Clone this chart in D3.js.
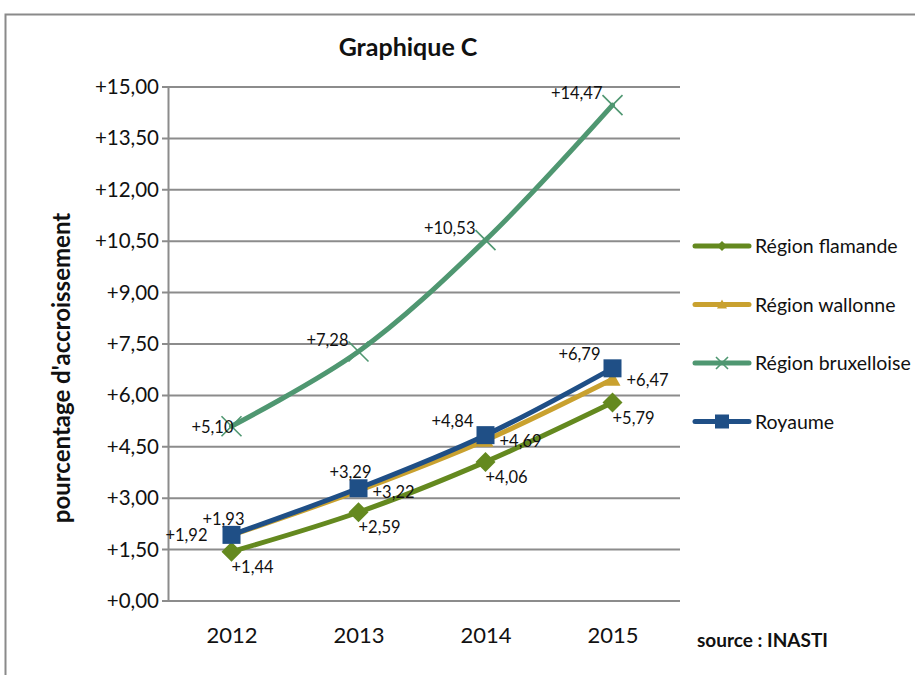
<!DOCTYPE html>
<html>
<head>
<meta charset="utf-8">
<script src="https://cdn.jsdelivr.net/npm/d3@7"></script>
<style>
  body { margin: 0; background: #fff; }
  svg { font-family: Lato, "Open Sans", sans-serif; }
</style>
</head>
<body>
<svg id="chart"></svg>
<script>
// data
var years = ["2012", "2013", "2014", "2015"];
var flamande = [1.44, 2.59, 4.06, 5.79];
var wallonne = [1.92, 3.22, 4.69, 6.47];
var bruxelloise = [5.10, 7.28, 10.53, 14.47];
var royaume = [1.93, 3.29, 4.84, 6.79];
var yTicks = [0, 1.5, 3, 4.5, 6, 7.5, 9, 10.5, 12, 13.5, 15];

var W = 915, H = 675;
var m = { left: 168, right: 239, top: 87, bottom: 74 };
var w = W - m.left - m.right;
var h = H - m.top - m.bottom;

var svg = d3.select("#chart").attr("width", W).attr("height", H);

// outer frame
svg.append("path")
    .attr("d", "M5.5," + H + "V14.5H" + W)
    .attr("fill", "none")
    .attr("stroke", "#8a8a8a")
    .attr("stroke-width", 2);

var fmt = function (v) { return "+" + d3.format(".2f")(v).replace(".", ","); };

var x = d3.scalePoint().domain(years).range([0, w]).padding(0.5);
var y = d3.scaleLinear().domain([0, 15]).range([h, 0]);

var chart = svg.append("g")
    .attr("transform", "translate(" + m.left + "," + m.top + ")");

// gridlines
chart.append("g").selectAll("line")
    .data(yTicks)
    .enter().append("line")
    .attr("x1", -6).attr("x2", w + 4)
    .attr("y1", function (d) { return y(d); })
    .attr("y2", function (d) { return y(d); })
    .attr("stroke", "#8c8c8c")
    .attr("stroke-width", 2);

// y axis
var gY = chart.append("g")
    .call(d3.axisLeft(y).tickValues(yTicks).tickFormat(fmt).tickSize(0).tickPadding(9));
gY.select(".domain").attr("stroke", "#8c8c8c").attr("stroke-width", 2);
gY.selectAll("text").attr("font-size", 20.5).attr("fill", "#111").attr("font-family", "Lato, sans-serif");

// x axis labels
var gX = chart.append("g")
    .attr("transform", "translate(0," + h + ")")
    .call(d3.axisBottom(x).tickSize(0).tickPadding(26));
gX.select(".domain").remove();
gX.selectAll("text").attr("font-size", 22).attr("fill", "#111").attr("font-family", "Lato, sans-serif");

var line = d3.line()
    .x(function (d, i) { return x(years[i]); })
    .y(function (d) { return y(d); })
    .curve(d3.curveCatmullRom);

var series = [
    { name: "Région flamande", values: flamande, color: "#64891f", marker: "diamond",
      label: function (i) { return { anchor: "start", dx: 0, dy: 21 }; } },
    { name: "Région wallonne", values: wallonne, color: "#c9a12f", marker: "triangle",
      label: function (i) { return i == 0 ? { anchor: "end", dx: -24, dy: 6 } : { anchor: "start", dx: 14, dy: 7 }; } },
    { name: "Région bruxelloise", values: bruxelloise, color: "#4f9771", marker: "cross",
      label: function (i) { return i == 0 ? { anchor: "end", dx: 2, dy: 7 } : { anchor: "end", dx: -10, dy: -6 }; } },
    { name: "Royaume", values: royaume, color: "#1f4f86", marker: "square",
      label: function (i) { return i < 2 ? { anchor: "middle", dx: -8, dy: -10 } : { anchor: "end", dx: -12, dy: -8 }; } }
];

function drawMarker(g, type, color, cx, cy, s) {
    if (type == "diamond") {
        g.append("path").attr("d", "M" + cx + "," + (cy - s) + "L" + (cx + s) + "," + cy + "L" + cx + "," + (cy + s) + "L" + (cx - s) + "," + cy + "Z")
            .attr("fill", color);
    } else if (type == "triangle") {
        g.append("path").attr("d", "M" + cx + "," + (cy - s) + "L" + (cx + s) + "," + (cy + s * 0.8) + "L" + (cx - s) + "," + (cy + s * 0.8) + "Z")
            .attr("fill", color);
    } else if (type == "square") {
        g.append("rect").attr("x", cx - s).attr("y", cy - s).attr("width", 2 * s).attr("height", 2 * s)
            .attr("fill", color);
    } else {
        g.append("path").attr("d", "M" + (cx - s) + "," + (cy - s) + "L" + (cx + s) + "," + (cy + s) + "M" + (cx + s) + "," + (cy - s) + "L" + (cx - s) + "," + (cy + s))
            .attr("stroke", color).attr("stroke-width", 1.6).attr("fill", "none");
    }
}

var markerSize = { diamond: 10, triangle: 8, square: 9, cross: 10 };

series.forEach(function (s) {
    var g = chart.append("g");
    g.append("path")
        .attr("d", line(s.values))
        .attr("fill", "none")
        .attr("stroke", s.color)
        .attr("stroke-width", 5)
        .attr("stroke-linejoin", "round")
        .attr("stroke-linecap", "round");
    s.values.forEach(function (v, i) {
        drawMarker(g, s.marker, s.color, x(years[i]), y(v), markerSize[s.marker]);
    });
});

// data labels on top
series.forEach(function (s) {
    s.values.forEach(function (v, i) {
        var p = s.label(i);
        chart.append("text")
            .attr("x", x(years[i]) + p.dx)
            .attr("y", y(v) + p.dy)
            .attr("text-anchor", p.anchor)
            .attr("font-size", 16.5)
            .attr("fill", "#111")
            .text(fmt(v));
    });
});

// legend
var legend = svg.append("g").attr("transform", "translate(693,246)");
series.forEach(function (s, i) {
    var g = legend.append("g").attr("transform", "translate(0," + (i * 58.5) + ")");
    g.append("line").attr("x1", 2).attr("x2", 56).attr("y1", 0).attr("y2", 0)
        .attr("stroke", s.color).attr("stroke-width", 5).attr("stroke-linecap", "round");
    drawMarker(g, s.marker, s.color, 29, 0, s.marker == "square" ? 7 : s.marker == "cross" ? 6 : 5);
    g.append("text").attr("x", 62).attr("y", 7)
        .attr("font-size", 19.5).attr("fill", "#111").text(s.name);
});

// titles
svg.append("text").attr("x", 408).attr("y", 56).attr("text-anchor", "middle")
    .attr("font-size", 25).attr("font-weight", "bold").attr("fill", "#111").text("Graphique C");

svg.append("text").attr("transform", "translate(70,368) rotate(-90)").attr("text-anchor", "middle")
    .attr("font-size", 24).attr("font-weight", "bold").attr("fill", "#111").text("pourcentage d'accroissement");

svg.append("text").attr("x", 697).attr("y", 647)
    .attr("font-size", 19).attr("font-weight", "bold").attr("fill", "#111").text("source : INASTI");
</script>
</body>
</html>
